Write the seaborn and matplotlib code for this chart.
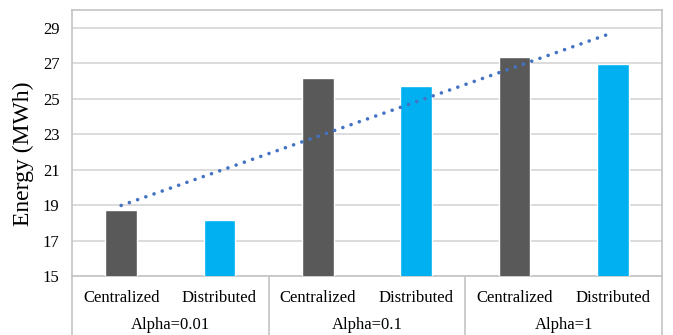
import numpy as np
import pandas as pd
import matplotlib
matplotlib.use("Agg")
import matplotlib.pyplot as plt
import seaborn as sns

# Energy use per scheme, grouped by alpha
alphas = ["Alpha=0.01", "Alpha=0.1", "Alpha=1"]
methods = ["Centralized", "Distributed"]
centralized = [18.75, 26.17, 27.35]
distributed = [18.15, 25.72, 26.96]
y_ticks = [15, 17, 19, 21, 23, 25, 27, 29]

rows = []
for a, c, d in zip(alphas, centralized, distributed):
    rows.append({"slot": f"{a}|Centralized", "method": "Centralized", "energy": c})
    rows.append({"slot": f"{a}|Distributed", "method": "Distributed", "energy": d})
df = pd.DataFrame(rows)

sns.set_theme(style="white")
plt.rcParams["font.family"] = ["Liberation Serif", "DejaVu Serif"]

fig = plt.figure(figsize=(6.73, 3.35), dpi=100)
ax = fig.add_axes([72 / 673, 59 / 335, 590 / 673, 266 / 335])

palette = {"Centralized": "#595959", "Distributed": "#00B0F0"}
sns.barplot(data=df, x="slot", y="energy", hue="method", palette=palette,
            dodge=False, width=0.32, legend=False, saturation=1, ax=ax,
            zorder=3)

# Linear trend through all six bars
xs = np.arange(len(df))
slope, intercept = np.polyfit(xs, df["energy"].to_numpy(), 1)
ax.plot(xs, slope * xs + intercept, color="#4472C4", linewidth=2.6,
        linestyle=(0, (0.01, 2.4)), dash_capstyle="round", zorder=4)

ax.set_ylim(15, 30)
ax.set_xlim(-0.5, len(df) - 0.5)
ax.set_yticks(y_ticks)
ax.set_yticklabels([str(t) for t in y_ticks])
ax.yaxis.grid(True, color="#D9D9D9", linewidth=1.3)
ax.set_axisbelow(True)

ax.set_xticks(xs)
ax.set_xticklabels(list(df["method"]))
ax.tick_params(axis="x", length=0, pad=10, labelsize=12, colors="#000000")
ax.tick_params(axis="y", length=0, pad=9, labelsize=12, colors="#000000")
ax.set_xlabel("")
ax.set_ylabel("Energy (MWh)", fontsize=17, color="#000000")
ax.yaxis.set_label_coords(-0.064, 0.46)

for s in ax.spines.values():
    s.set_color("#C4C4C4")
    s.set_linewidth(1.2)

# Group separators and outer category labels
trans = ax.get_xaxis_transform()
for b in [-0.5, 1.5, 3.5, 5.5]:
    ax.plot([b, b], [0, -0.23], transform=trans, color="#C4C4C4",
            linewidth=1.2, clip_on=False)
for i, a in enumerate(alphas):
    ax.text(2 * i + 0.5, -0.185, a, transform=trans, ha="center", va="center",
            fontsize=12, color="#000000")

fig.savefig("out.png", dpi=100, facecolor="white")
